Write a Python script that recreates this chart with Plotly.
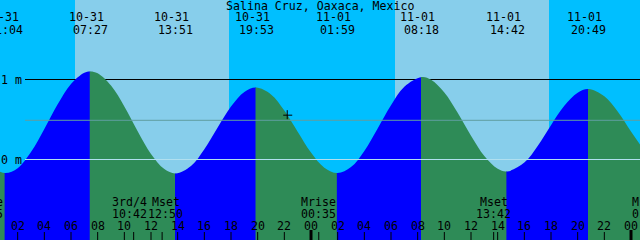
import math
import pandas as pd
import plotly.graph_objects as go

W, HPX = 640, 240

TITLE = "Salina Cruz, Oaxaca, Mexico"
REF = pd.Timestamp("2018-10-31 00:00")
VIEW_START = pd.Timestamp("2018-10-31 00:40:30")
VIEW_HOURS = 48.0

# tide extremes (shown in the header)
tide_stamps = ["2018-10-31 01:04", "2018-10-31 07:27", "2018-10-31 13:51", "2018-10-31 19:53",
               "2018-11-01 01:59", "2018-11-01 08:18", "2018-11-01 14:42", "2018-11-01 20:49"]
tide_heights = [-0.17, 1.10, -0.175, 0.90, -0.17, 1.03, -0.15, 0.88]
# extremes just outside the window (only decide colour of the edge segments)
edge_tide_stamps = ["2018-10-30 19:00", "2018-11-02 02:54"]
edge_tide_heights = [0.90, -0.15]

# water level read at every hour from 2018-10-31 00:00
hourly_start = "2018-10-31 00:00"
hourly_heights = [
    -0.095, -0.175, -0.109, 0.093, 0.382, 0.690, 0.944, 1.084, 1.077, 0.924,
    0.663, 0.354, 0.070, -0.120, -0.173, -0.082, 0.128, 0.400, 0.662, 0.844,
    0.899, 0.814, 0.612, 0.347, 0.086, -0.103, -0.170, -0.095, 0.107, 0.388,
    0.678, 0.909, 1.023, 0.996, 0.836, 0.583, 0.297, 0.044, -0.116, -0.144,
    -0.039, 0.169, 0.429, 0.671, 0.835, 0.878, 0.790, 0.600, 0.350, 0.110,
]

sunrise_stamps = ["2018-10-31 06:18", "2018-11-01 06:18"]
sunset_stamps = ["2018-10-31 17:51", "2018-11-01 17:51"]

moon_labels = ["Mrise", "3rd/4", "Mset", "Mrise", "Mset", "Mrise"]
moon_stamps = ["2018-10-30 23:35", "2018-10-31 10:42", "2018-10-31 12:50",
               "2018-11-01 00:35", "2018-11-01 13:42", "2018-11-02 01:25"]

now_stamp = "2018-10-31 22:13"
now_height = 0.554

depth_marks = [0, 1]
mean_level = 0.49
datum_level = 0.0

# ---- styles ----
NIGHT = "#00BFFF"
DAY = "#87CEEB"
RISE = "#0000FF"
FALL = "#2E8B57"
MSL_COLOR = "#5F9EA0"
DATUM_COLOR = "#B0E0F0"
FONT = dict(family="DejaVu Sans Mono", size=11.6, color="black")
CHAR_W = 7.0
Y0, Y1 = -1.00625, 1.99375


def hrs(s):
    return (pd.Timestamp(s) - REF) / pd.Timedelta(hours=1)


H0 = hrs(VIEW_START)
H1 = H0 + VIEW_HOURS
PXH = W / VIEW_HOURS


def xp(h):
    return (h - H0) / VIEW_HOURS


def ypaper(py):
    return 1 - py / HPX


ext = sorted(zip([hrs(s) for s in edge_tide_stamps + tide_stamps],
                 edge_tide_heights + tide_heights))

hourly_h = [hrs(hourly_start) + i for i in range(len(hourly_heights))]
pts = [(h, v) for h, v in zip(hourly_h, hourly_heights)
       if all(abs(h - e[0]) > 0.3 for e in ext)]
pts += [e for e in ext if hourly_h[0] <= e[0] <= hourly_h[-1]]
pts.sort()
cx = [p[0] for p in pts]
cy = [p[1] for p in pts]

fig = go.Figure()
# anchor trace for the main axes
fig.add_trace(go.Scatter(x=[H0], y=[Y0 - 1], mode="markers", marker=dict(size=1, opacity=0),
                         hoverinfo="skip", showlegend=False))

axes = {}
ai = 1
for (t0, v0), (t1, v1) in zip(ext[:-1], ext[1:]):
    d0 = max(0.0, xp(t0))
    d1 = min(1.0, xp(t1))
    if d1 <= d0:
        continue
    ai += 1
    d0e = max(0.0, d0 - 0.6 / W)
    name = f"x{ai}"
    axes[f"xaxis{ai}"] = dict(domain=[d0e, d1],
                              range=[H0 + d0e * VIEW_HOURS, H0 + d1 * VIEW_HOURS],
                              anchor="y", visible=False, fixedrange=True)
    color = RISE if v1 > v0 else FALL
    fig.add_trace(go.Scatter(x=[cx[0], cx[-1]], y=[Y0 - 1, Y0 - 1], xaxis=name, yaxis="y",
                             mode="lines", line=dict(width=0), hoverinfo="skip",
                             showlegend=False))
    fig.add_trace(go.Scatter(x=cx, y=cy, xaxis=name, yaxis="y", mode="lines",
                             line=dict(width=0, shape="spline", smoothing=1),
                             fill="tonexty", fillcolor=color, hoverinfo="skip",
                             showlegend=False))

shapes = []
# daylight
for sr, ss in zip(sunrise_stamps, sunset_stamps):
    shapes.append(dict(type="rect", xref="x", yref="paper", x0=hrs(sr), x1=hrs(ss),
                       y0=0, y1=1, fillcolor=DAY, line=dict(width=0), layer="below"))
# depth marks (non-datum) under the water
for d in depth_marks:
    if d != datum_level:
        shapes.append(dict(type="line", xref="paper", yref="y", x0=25 / W, x1=1, y0=d, y1=d,
                           line=dict(color="black", width=1), layer="below"))
# mean level and datum over the water
shapes.append(dict(type="line", xref="paper", yref="y", x0=25 / W, x1=1,
                   y0=mean_level, y1=mean_level, line=dict(color=MSL_COLOR, width=1),
                   layer="above"))
shapes.append(dict(type="line", xref="paper", yref="y", x0=25 / W, x1=1,
                   y0=datum_level, y1=datum_level, line=dict(color=DATUM_COLOR, width=1),
                   layer="above"))

annotations = []


def label(text, xpos, py, xanchor="center", xshift=0):
    annotations.append(dict(text=text, x=xpos, xref="paper", y=ypaper(py), yref="paper",
                            xanchor=xanchor, yanchor="middle", showarrow=False,
                            font=FONT, xshift=xshift, borderpad=0))


label(TITLE, 0.5, 6)

# tide header
for s in tide_stamps:
    ts = pd.Timestamp(s)
    h = hrs(s)
    label(ts.strftime("%m-%d"), xp(h), 17.5, xshift=-4)
    label(ts.strftime("%H:%M"), xp(h), 29.5)

# hour ticks and labels
k = math.ceil(H0 / 2) * 2
while k <= H1:
    ts = REF + pd.Timedelta(hours=k)
    midnight = ts.hour == 0
    shapes.append(dict(type="line", xref="x", yref="paper", x0=k, x1=k, y0=0,
                       y1=(10 if midnight else 8) / HPX,
                       line=dict(color="black", width=3 if midnight else 1), layer="above"))
    label(ts.strftime("%H"), xp(k), 226)
    k += 2

# moon events
mh = [hrs(s) for s in moon_stamps]
centers = [(h - H0) * PXH for h in mh]
widths = [max(len(n), 5) * CHAR_W for n in moon_labels]
for i in range(len(centers) - 1):
    need = (widths[i] + widths[i + 1]) / 2 + 1
    if centers[i + 1] - centers[i] < need:
        mid = (centers[i] + centers[i + 1]) / 2
        centers[i] = mid - need / 2
        centers[i + 1] = mid + need / 2
for n, s, h, c in zip(moon_labels, moon_stamps, mh, centers):
    shapes.append(dict(type="line", xref="x", yref="paper", x0=h, x1=h, y0=0, y1=8 / HPX,
                       line=dict(color="black", width=1), layer="above"))
    label(n, c / W, 202)
    label(pd.Timestamp(s).strftime("%H:%M"), c / W, 213.5)

# depth labels
for d in depth_marks:
    annotations.append(dict(text=f"{d} m", x=22.5 / W, xref="paper", y=d, yref="y",
                            xanchor="right", yanchor="middle", showarrow=False, font=FONT,
                            borderpad=0))

# "now" marker
nh = hrs(now_stamp)
shapes.append(dict(type="line", xref="x", yref="y", xsizemode="pixel", xanchor=nh,
                   x0=-4, x1=5, y0=now_height, y1=now_height,
                   line=dict(color="black", width=1), layer="above"))
shapes.append(dict(type="line", xref="x", yref="y", ysizemode="pixel", yanchor=now_height,
                   y0=-4, y1=5, x0=nh, x1=nh, line=dict(color="black", width=1),
                   layer="above"))

fig.update_layout(
    width=W, height=HPX, margin=dict(l=0, r=0, t=0, b=0, pad=0),
    paper_bgcolor=NIGHT, plot_bgcolor="rgba(0,0,0,0)",
    xaxis=dict(domain=[0, 1], range=[H0, H1], visible=False, fixedrange=True),
    yaxis=dict(domain=[0, 1], range=[Y0, Y1], visible=False, fixedrange=True, anchor="x"),
    shapes=shapes, annotations=annotations, showlegend=False,
    **axes,
)

fig.write_html("out.html", config={"displayModeBar": False})
